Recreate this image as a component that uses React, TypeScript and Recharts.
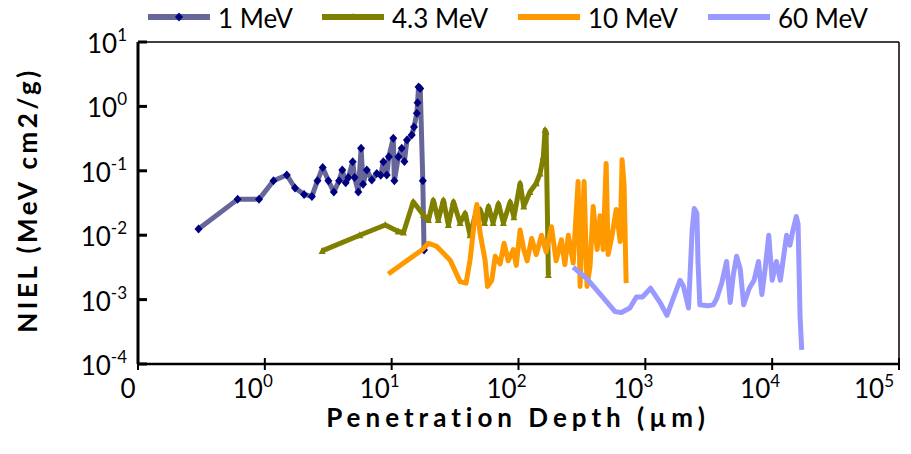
import React from 'react';
import { ScatterChart, Scatter, XAxis, YAxis, ReferenceLine } from 'recharts';

// ---- tick definitions ----
const xTicks = [0.1, 1, 10, 100, 1000, 10000, 100000];
const xTickBase = ['0', '10', '10', '10', '10', '10', '10'];
const xTickExp = ['', '0', '1', '2', '3', '4', '5'];
const yTicks = [0.0001, 0.001, 0.01, 0.1, 1, 10];
const yTickExp = ['-4', '-3', '-2', '-1', '0', '1'];

// ---- series names ----
const seriesNames = ['1 MeV', '4.3 MeV', '10 MeV', '60 MeV'];

// ---- 1 MeV ----
const mev1Depth = [0.30, 0.61, 0.90, 1.17, 1.49, 1.73, 2.04, 2.35, 2.60, 2.86, 3.17, 3.50, 3.85, 4.08, 4.34, 4.56, 4.93, 5.10, 5.46, 5.74, 5.95, 6.37, 6.97, 7.63, 8.20, 8.60, 9.15, 9.50, 10.3, 10.5, 11.3, 12.0, 12.6, 13.2, 14.4, 15.0, 15.8, 16.0, 16.3, 16.8, 17.6, 18.0];
const mev1Niel = [0.0125, 0.036, 0.036, 0.070, 0.086, 0.054, 0.043, 0.040, 0.070, 0.113, 0.070, 0.047, 0.070, 0.103, 0.065, 0.079, 0.138, 0.079, 0.047, 0.224, 0.062, 0.103, 0.072, 0.091, 0.085, 0.138, 0.086, 0.166, 0.32, 0.070, 0.166, 0.224, 0.14, 0.30, 0.36, 0.48, 0.78, 1.14, 2.0, 1.9, 0.07, 0.0059];

// ---- 4.3 MeV ----
const mev43Depth = [2.83, 5.6, 8.9, 11.3, 12.4, 14.8, 17.8, 19.5, 21.3, 23.3, 25.6, 28, 30.7, 34.6, 38, 41.5, 45.5, 49.8, 54, 58, 63, 69.5, 76, 86, 92, 103, 110, 123, 138, 148, 157, 162, 165, 172];
const mev43Niel = [0.0057, 0.010, 0.0144, 0.0114, 0.011, 0.033, 0.0206, 0.0172, 0.035, 0.0172, 0.035, 0.0144, 0.033, 0.0155, 0.022, 0.010, 0.020, 0.025, 0.0155, 0.028, 0.0155, 0.031, 0.0155, 0.033, 0.019, 0.064, 0.028, 0.047, 0.064, 0.091, 0.166, 0.43, 0.40, 0.0024];

// ---- 10 MeV ----
const mev10Depth = [9.4, 17.3, 19.5, 22.7, 28.9, 34.6, 38.6, 41.5, 45.5, 47, 49.8, 54.5, 57, 61.6, 65.5, 71.6, 77, 83, 91, 96, 103, 110, 117, 127, 138, 152, 165, 182, 198, 218, 232, 247, 270, 295, 306, 329, 347, 367, 388, 417, 440, 465, 491, 509, 547, 589, 633, 656, 680, 706];
const mev10Niel = [0.0025, 0.0059, 0.0075, 0.0067, 0.0041, 0.0019, 0.0018, 0.0041, 0.021, 0.030, 0.0107, 0.0041, 0.0016, 0.002, 0.0047, 0.0036, 0.0075, 0.0040, 0.0060, 0.0034, 0.012, 0.0060, 0.0040, 0.0089, 0.0050, 0.010, 0.0055, 0.0135, 0.0040, 0.0085, 0.0035, 0.010, 0.0037, 0.068, 0.0016, 0.068, 0.0016, 0.0034, 0.028, 0.006, 0.02, 0.006, 0.13, 0.005, 0.010, 0.025, 0.008, 0.148, 0.06, 0.0018];

// ---- 60 MeV ----
const mev60Depth = [270, 347, 414, 577, 648, 755, 850, 950, 1100, 1320, 1480, 1720, 1880, 2000, 2190, 2340, 2430, 2550, 2600, 2690, 3100, 3440, 3660, 4000, 4370, 4670, 4950, 5240, 5600, 5960, 6600, 7200, 7800, 8300, 8800, 9400, 10000, 10800, 11600, 13000, 13800, 14600, 15500, 16000, 16600, 17100];
const mev60Niel = [0.0032, 0.0021, 0.0014, 0.00065, 0.00063, 0.00074, 0.0011, 0.0011, 0.0015, 0.00087, 0.00057, 0.00126, 0.002, 0.0016, 0.00074, 0.012, 0.026, 0.022, 0.004, 0.00083, 0.0008, 0.00083, 0.00105, 0.0018, 0.0039, 0.0009, 0.0025, 0.0047, 0.003, 0.00083, 0.0015, 0.002, 0.0039, 0.0012, 0.003, 0.010, 0.002, 0.0039, 0.002, 0.010, 0.007, 0.012, 0.0195, 0.015, 0.00054, 0.000166];

const zip = (xs: number[], ys: number[]) => xs.map((x, i) => ({ x, y: ys[i] }));
const mev1Data = zip(mev1Depth, mev1Niel);
const mev43Data = zip(mev43Depth, mev43Niel);
const mev10Data = zip(mev10Depth, mev10Niel);
const mev60Data = zip(mev60Depth, mev60Niel);

const FONT = 'Lato, "Liberation Sans", sans-serif';
const W = 911;
const H = 454;
const PLOT = { left: 138, top: 42, right: 899, bottom: 364 };
const YAXIS_W = 60;
const XAXIS_H = 40;

const C1_LINE = '#666699';
const C1_MARK = '#000080';
const C43 = '#808000';
const C10 = '#FF9900';
const C60 = '#9999FF';
const LW = 5;

const Diamond = (p: any) => {
  const { cx, cy } = p;
  if (cx == null || cy == null) return <g />;
  return <path d={`M${cx},${cy - 4.5}L${cx + 4},${cy}L${cx},${cy + 4.5}L${cx - 4},${cy}Z`} fill={C1_MARK} />;
};
const Triangle = (p: any) => {
  const { cx, cy } = p;
  if (cx == null || cy == null) return <g />;
  return <path d={`M${cx},${cy - 4}L${cx + 3.5},${cy + 3}L${cx - 3.5},${cy + 3}Z`} fill={C43} />;
};
const NoShape = () => <g />;

const XTick = (props: any) => {
  const { x, payload } = props;
  const i = xTicks.indexOf(payload.value);
  const exp = xTickExp[i];
  const last = i === xTicks.length - 1;
  return (
    <g>
      <line x1={x} x2={x} y1={PLOT.bottom - 6} y2={PLOT.bottom + 6} stroke="#000" strokeWidth={2} />
      {exp ? (
        <text x={last ? x - 5 : x + 8} y={398} textAnchor="end" fontFamily={FONT} fontSize={26} fill="#000">
          {xTickBase[i]}
          <tspan dy={-11} fontSize={17}>{exp}</tspan>
        </text>
      ) : (
        <text x={x - 10} y={398} textAnchor="middle" fontFamily={FONT} fontSize={26} fill="#000">
          {xTickBase[i]}
        </text>
      )}
    </g>
  );
};

const YTick = (props: any) => {
  const { y, payload } = props;
  const i = yTicks.indexOf(payload.value);
  return (
    <g>
      <line x1={PLOT.left} x2={PLOT.left + 9} y1={y} y2={y} stroke="#000" strokeWidth={3} />
      <text x={127} y={y + 11} textAnchor="end" fontFamily={FONT} fontSize={26} fill="#000">
        10
        <tspan dy={-12} fontSize={17}>{yTickExp[i]}</tspan>
      </text>
    </g>
  );
};

const legendItems = [
  { name: seriesNames[0], color: C1_LINE, mark: 'diamond', x: 148 },
  { name: seriesNames[1], color: C43, mark: 'triangle', x: 322 },
  { name: seriesNames[2], color: C10, mark: 'dash', x: 518 },
  { name: seriesNames[3], color: C60, mark: 'dash', x: 708 },
];

const LegendOverlay = () => (
  <svg width={W} height={40} style={{ position: 'absolute', left: 0, top: 0 }}>
    {legendItems.map((it) => {
      const cx = it.x + 31;
      const cy = 17;
      return (
        <g key={it.name}>
          <line x1={it.x} x2={it.x + 62} y1={cy} y2={cy} stroke={it.color} strokeWidth={6} />
          {it.mark === 'diamond' && <path d={`M${cx},${cy - 4.5}L${cx + 4},${cy}L${cx},${cy + 4.5}L${cx - 4},${cy}Z`} fill={C1_MARK} />}
          {it.mark === 'triangle' && <path d={`M${cx},${cy - 4}L${cx + 3.5},${cy + 3}L${cx - 3.5},${cy + 3}Z`} fill={C43} />}
          <text x={it.x + 70} y={28} fontFamily={FONT} fontSize={26} fill="#000">{it.name}</text>
        </g>
      );
    })}
  </svg>
);

export default function App() {
  return (
    <div style={{ position: 'absolute', left: 0, top: 0, width: W, height: H, background: '#fff' }}>
      <ScatterChart
        width={W}
        height={H}
        margin={{ top: PLOT.top, right: W - PLOT.right, left: PLOT.left - YAXIS_W, bottom: H - PLOT.bottom - XAXIS_H }}
      >
        <XAxis
          dataKey="x"
          type="number"
          scale="log"
          domain={[0.1, 100000]}
          ticks={xTicks}
          allowDataOverflow
          height={XAXIS_H}
          axisLine={{ stroke: '#000', strokeWidth: 2.5 }}
          tickLine={false}
          tick={<XTick />}
          interval={0}
          label={{
            content: () => (
              <text x={518} y={427} textAnchor="middle" fontFamily={FONT} fontSize={26} fontWeight="bold" letterSpacing={5} fill="#000">
                Penetration Depth (µm)
              </text>
            ),
          }}
        />
        <YAxis
          dataKey="y"
          type="number"
          scale="log"
          domain={[0.0001, 10]}
          ticks={yTicks}
          allowDataOverflow
          width={YAXIS_W}
          axisLine={{ stroke: '#000', strokeWidth: 3 }}
          tickLine={false}
          tick={<YTick />}
          interval={0}
          label={{
            content: () => (
              <text x={27} y={200} transform="rotate(-90 27 200)" textAnchor="middle" dominantBaseline="central" fontFamily={FONT} fontSize={26} fontWeight="bold" letterSpacing={3.5} fill="#000">
                NIEL (MeV cm2/g)
              </text>
            ),
          }}
        />
        <ReferenceLine y={10} stroke="#000" strokeWidth={1.5} />
        <ReferenceLine x={100000} stroke="#000" strokeWidth={1.5} />
        <Scatter name={seriesNames[0]} data={mev1Data} line={{ stroke: C1_LINE, strokeWidth: LW, strokeLinejoin: 'round' }} shape={Diamond} isAnimationActive={false} />
        <Scatter name={seriesNames[1]} data={mev43Data} line={{ stroke: C43, strokeWidth: LW, strokeLinejoin: 'round' }} shape={Triangle} isAnimationActive={false} />
        <Scatter name={seriesNames[2]} data={mev10Data} line={{ stroke: C10, strokeWidth: LW, strokeLinejoin: 'round' }} shape={NoShape} isAnimationActive={false} />
        <Scatter name={seriesNames[3]} data={mev60Data} line={{ stroke: C60, strokeWidth: LW, strokeLinejoin: 'round' }} shape={NoShape} isAnimationActive={false} />
      </ScatterChart>
      <LegendOverlay />
    </div>
  );
}
